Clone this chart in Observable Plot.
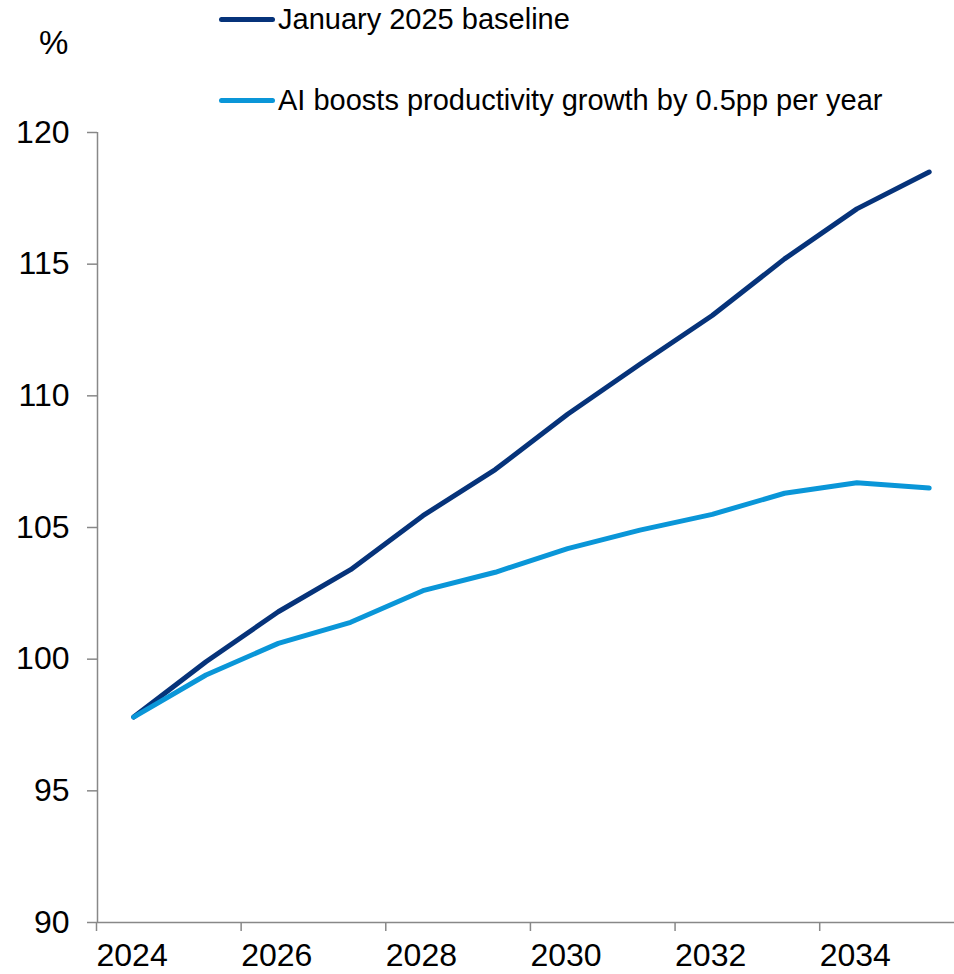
<!DOCTYPE html>
<html><head><meta charset="utf-8">
<script src="https://cdn.jsdelivr.net/npm/d3@7"></script>
<script src="https://cdn.jsdelivr.net/npm/@observablehq/plot@0.6"></script>
<style>
body{margin:0;background:#fff;font-family:"Liberation Sans",Arial,sans-serif;}
#wrap{position:relative;width:954px;height:974px;}
.leg{position:absolute;display:flex;align-items:center;font-size:29px;color:#000;white-space:nowrap;}
.leg span.sw{display:inline-block;width:56px;height:5px;border-radius:3px;margin-right:3px;}
#pct{position:absolute;left:39px;top:24px;font-size:33px;}
</style></head>
<body><div id="wrap"><div id="pct">%</div></div>
<script>
const years = [2024,2025,2026,2027,2028,2029,2030,2031,2032,2033,2034,2035];
const baseline = [97.8,99.9,101.8,103.4,105.45,107.2,109.3,111.2,113.05,115.2,117.1,118.5];
const aiBoost = [97.8,99.4,100.6,101.4,102.6,103.3,104.2,104.9,105.5,106.3,106.7,106.5];
const seriesNames = ["January 2025 baseline","AI boosts productivity growth by 0.5pp per year"];
const seriesColors = ["#06337A","#0A96D8"];
const xTicks = [2024,2026,2028,2030,2032,2034];
const yTicks = [90,95,100,105,110,115,120];

const rows = [];
years.forEach((y,i)=>{
  rows.push({year:y+0.5, value:baseline[i], series:seriesNames[0]});
  rows.push({year:y+0.5, value:aiBoost[i], series:seriesNames[1]});
});

const chart = Plot.plot({
  width:954, height:974,
  marginLeft:97, marginTop:132, marginBottom:52, marginRight:0,
  style:{fontFamily:'"Liberation Sans",Arial,sans-serif', fontSize:"32px", color:"#000", background:"transparent"},
  x:{domain:[2024,2035.85]},
  y:{domain:[90,120]},
  color:{domain:seriesNames, range:seriesColors},
  marks:[
    Plot.axisY({ticks:yTicks, tickSize:10, tickPadding:18, stroke:"#888", strokeWidth:1.5, fill:"#000", label:null, fontSize:32}),
    Plot.axisX({ticks:xTicks, tickSize:9, tickPadding:12, stroke:"#888", strokeWidth:1.5, fill:"#000", label:null, tickFormat:d=>String(d), textAnchor:"start", dx:-1, fontSize:32}),
    Plot.ruleX([2024],{stroke:"#888", strokeWidth:1.5}),
    Plot.ruleY([90],{stroke:"#888", strokeWidth:1.5}),
    Plot.lineY(rows,{x:"year", y:"value", z:"series", stroke:"series", strokeWidth:5, strokeLinecap:"round", strokeLinejoin:"round"})
  ]
});
const wrap = document.getElementById("wrap");
wrap.appendChild(chart);
chart.style.position="absolute"; chart.style.left="0"; chart.style.top="0";
const legTops=[3,84];
seriesNames.forEach((n,i)=>{
  const d=document.createElement("div");
  d.className="leg"; d.style.left="219px"; d.style.top=legTops[i]+"px";
  const sw=document.createElement("span"); sw.className="sw"; sw.style.background=seriesColors[i];
  d.appendChild(sw); d.appendChild(document.createTextNode(n));
  wrap.appendChild(d);
});
</script></body></html>
